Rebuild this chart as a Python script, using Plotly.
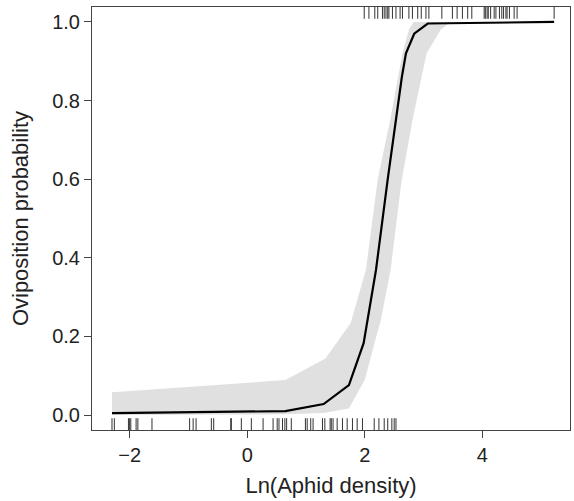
import plotly.graph_objects as go

# fitted curve
fit_x = [-2.3, 0.65, 1.30, 1.73, 1.98, 2.19, 2.39, 2.56, 2.63, 2.70, 2.84, 3.07, 5.22]
fit_y = [0.005, 0.010, 0.028, 0.076, 0.183, 0.369, 0.60, 0.78, 0.86, 0.92, 0.97, 0.996, 1.0]

# confidence band
upper_x = [-2.3, 0.65, 1.33, 1.76, 2.02, 2.22, 2.43, 2.64, 2.75, 2.83, 5.22]
upper_y = [0.058, 0.089, 0.144, 0.234, 0.37, 0.60, 0.75, 0.92, 0.98, 1.0, 1.0]
lower_x = [-2.3, 0.65, 1.30, 1.73, 2.00, 2.16, 2.27, 2.44, 2.62, 2.81, 3.05, 3.29, 3.46, 5.22]
lower_y = [0.0, 0.002, 0.005, 0.017, 0.09, 0.18, 0.24, 0.37, 0.59, 0.75, 0.92, 0.98, 1.0, 1.0]

# observed data (rug)
rug_absent = [-2.30, -2.26, -2.02, -2.00, -1.98, -1.89, -1.86, -1.62, -0.98, -0.92, -0.87,
              -0.61, -0.57, -0.28, -0.27, -0.10, 0.07, 0.27, 0.44, 0.51, 0.54, 0.60, 0.64,
              0.67, 0.75, 0.99, 1.02, 1.08, 1.12, 1.28, 1.32, 1.41, 1.43, 1.46, 1.53, 1.62,
              1.70, 1.79, 1.87, 1.96, 2.16, 2.24, 2.33, 2.39, 2.46, 2.50, 2.53]
rug_present = [1.99, 2.07, 2.17, 2.22, 2.30, 2.33, 2.36, 2.39, 2.41, 2.47, 2.53, 2.60, 2.64,
               2.75, 2.81, 2.90, 2.96, 3.04, 3.09, 3.31, 3.49, 3.57, 3.66, 3.75, 3.82, 4.03,
               4.05, 4.08, 4.10, 4.14, 4.20, 4.23, 4.29, 4.33, 4.36, 4.40, 4.42, 4.46, 4.54,
               4.59, 5.22]

x_ticks = [-2, 0, 2, 4]
y_ticks = [0.0, 0.2, 0.4, 0.6, 0.8, 1.0]
y_tick_text = ["0.0", "0.2", "0.4", "0.6", "0.8", "1.0"]

y_lo, y_hi = -0.038, 1.038
rug_len = 0.03

fig = go.Figure()

fig.add_trace(go.Scatter(
    x=upper_x + lower_x[::-1], y=upper_y + lower_y[::-1],
    fill="toself", fillcolor="#e0e0e0", line=dict(width=0), mode="lines",
    hoverinfo="skip", showlegend=False))

fig.add_trace(go.Scatter(x=fit_x, y=fit_y, mode="lines",
                         line=dict(color="black", width=2.2), showlegend=False))

rx, ry = [], []
for v in rug_absent:
    rx += [v, v, None]
    ry += [y_lo, y_lo + rug_len, None]
for v in rug_present:
    rx += [v, v, None]
    ry += [y_hi - rug_len, y_hi, None]
fig.add_trace(go.Scatter(x=rx, y=ry, mode="lines",
                         line=dict(color="#333333", width=1), showlegend=False))

font = "Liberation Sans, Arial, sans-serif"
fig.update_layout(
    width=574, height=501,
    margin=dict(l=92, r=4, t=7, b=71),
    paper_bgcolor="white", plot_bgcolor="white",
    font=dict(family=font, size=21, color="#222222"),
    xaxis=dict(range=[-2.64, 5.49], tickvals=x_ticks, ticks="outside", ticklen=7,
               tickcolor="#444444", showline=True, linecolor="#444444", linewidth=1,
               mirror=True, showgrid=False, zeroline=False, automargin=False,
               title=dict(text="Ln(Aphid density)", standoff=12, font=dict(size=22)),
               tickfont=dict(size=20)),
    yaxis=dict(range=[y_lo, y_hi], tickvals=y_ticks, ticktext=y_tick_text,
               ticks="outside", ticklen=7, tickcolor="#444444", showline=True,
               linecolor="#444444", linewidth=1, mirror=True, showgrid=False,
               zeroline=False, automargin=False,
               title=dict(text="Oviposition probability", standoff=17, font=dict(size=22)),
               tickfont=dict(size=20)),
)

fig.write_html("out.html", config={"displayModeBar": False},
               post_script="document.body.style.margin='0';document.body.style.padding='0';")
